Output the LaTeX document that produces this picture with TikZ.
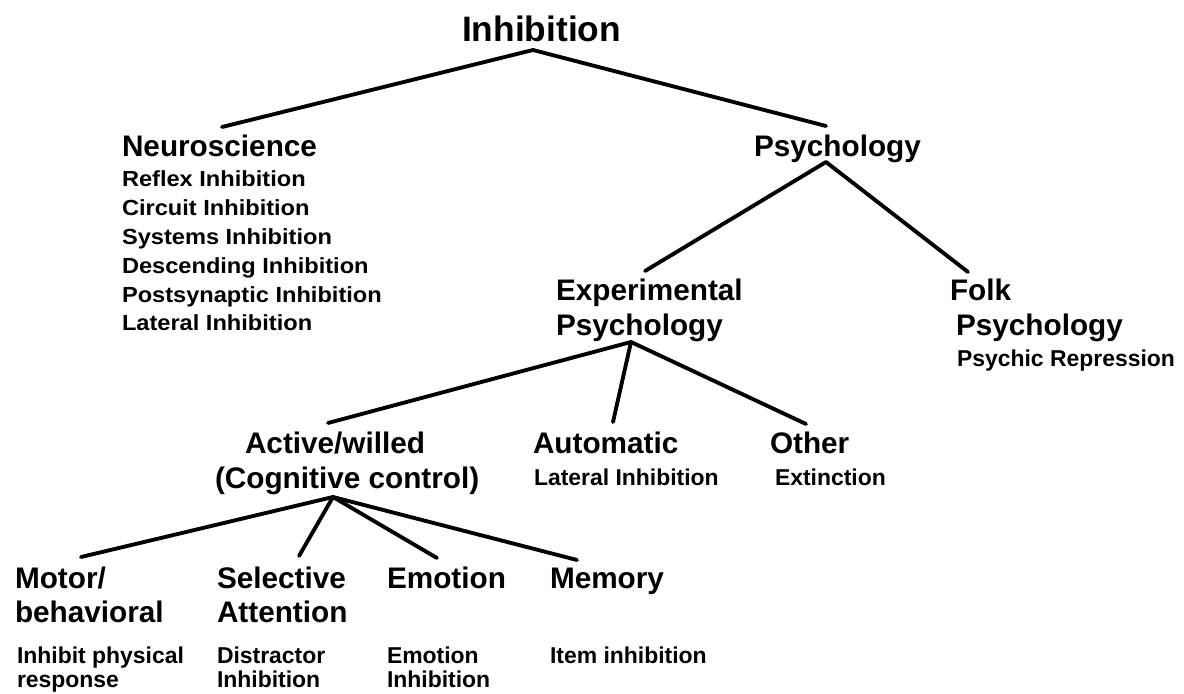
\documentclass[tikz,border=0pt]{standalone}
\usepackage{fontspec}
\setmainfont{Liberation Sans}
\newfontfamily\wideitemfont{Liberation Sans}[FakeStretch=1.08]
\begin{document}
\begin{tikzpicture}[x=0.75pt,y=-0.75pt,
  every node/.style={inner sep=0pt,outer sep=0pt,anchor=base west},
  title/.style={font=\fontsize{26.5pt}{30pt}\selectfont\bfseries},
  head/.style={font=\fontsize{22.3pt}{26pt}\selectfont\bfseries},
  sub/.style={font=\fontsize{17.2pt}{20pt}\selectfont\bfseries},
  wsub/.style={font=\wideitemfont\fontsize{16.4pt}{19pt}\selectfont\bfseries},
  link/.style={line width=2.9pt,line cap=round,line join=round}]
\useasboundingbox[fill=white] (0,0) rectangle (1184,693);

% texts
\node[title] (inh) at (462,41) {Inhibition};
\node[head] (neuro) at (122,156) {Neuroscience};
\node[wsub] (n1) at (122,186) {Reflex Inhibition};
\node[wsub] (n2) at (122,215) {Circuit Inhibition};
\node[wsub] (n3) at (122,244) {Systems Inhibition};
\node[wsub] (n4) at (122,273) {Descending Inhibition};
\node[wsub] (n5) at (122,302) {Postsynaptic Inhibition};
\node[wsub] (n6) at (122,330) {Lateral Inhibition};
\node[head] (psy) at (754,156) {Psychology};
\node[head] (exp1) at (556,300) {Experimental};
\node[head] (exp2) at (556,335) {Psychology};
\node[head] (folk1) at (950,300) {Folk};
\node[head] (folk2) at (956,335) {Psychology};
\node[sub] (folk3) at (957,366) {Psychic Repression};
\node[head] (act1) at (245,453) {Active/willed};
\node[head] (act2) at (215,488) {(Cognitive control)};
\node[head] (auto) at (533,453) {Automatic};
\node[sub] (auto1) at (534,485) {Lateral Inhibition};
\node[head] (other) at (770,453) {Other};
\node[sub] (other1) at (775,485) {Extinction};
\node[head] (mot1) at (15,588) {Motor/};
\node[head] (mot2) at (15,622) {behavioral};
\node[head] (sel1) at (217,588) {Selective};
\node[head] (sel2) at (217,622) {Attention};
\node[head] (emo) at (387,588) {Emotion};
\node[head] (mem) at (550,588) {Memory};
\node[sub] (mot3) at (17,663) {Inhibit physical};
\node[sub] (mot4) at (17,687) {response};
\node[sub] (sel3) at (217,663) {Distractor};
\node[sub] (sel4) at (217,687) {Inhibition};
\node[sub] (emo3) at (387,663) {Emotion};
\node[sub] (emo4) at (387,687) {Inhibition};
\node[sub] (mem3) at (550,663) {Item inhibition};

% junction and end points
\coordinate (inhJ) at (533,50);
\coordinate (neuroT) at (222,127);
\coordinate (psyT) at (826,126);
\coordinate (psyJ) at (826,162);
\coordinate (expT) at (645,271);
\coordinate (folkT) at (968,272);
\coordinate (expJ) at (631,342);
\coordinate (actT) at (328,423);
\coordinate (autoT) at (613,422);
\coordinate (otherT) at (806,424);
\coordinate (actJ) at (333,497);
\coordinate (motT) at (81,557);
\coordinate (selT) at (299,556);
\coordinate (emoT) at (437,558);
\coordinate (memT) at (577,560);

% connectors
\draw[link] (neuroT) -- (inhJ) -- (psyT);
\draw[link] (expT) -- (psyJ) -- (folkT);
\draw[link] (actT) -- (expJ) -- (otherT);
\draw[link] (expJ) -- (autoT);
\draw[link] (motT) -- (actJ) -- (memT);
\draw[link] (actJ) -- (selT);
\draw[link] (actJ) -- (emoT);
\end{tikzpicture}
\end{document}
